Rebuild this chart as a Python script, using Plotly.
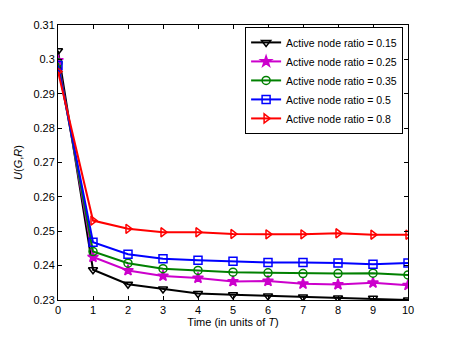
import plotly.graph_objects as go

time = [0, 1, 2, 3, 4, 5, 6, 7, 8, 9, 10]

u_015 = [0.3025, 0.2388, 0.2346, 0.2332, 0.2319, 0.2315, 0.2312, 0.2309, 0.2306, 0.2305, 0.2300]
u_025 = [0.2997, 0.2425, 0.2386, 0.2370, 0.2364, 0.2354, 0.2355, 0.2347, 0.2345, 0.2350, 0.2343]
u_035 = [0.2990, 0.2441, 0.2407, 0.2391, 0.2386, 0.2381, 0.2379, 0.2377, 0.2377, 0.2378, 0.2373]
u_05 = [0.2982, 0.2468, 0.2433, 0.2420, 0.2416, 0.2413, 0.2409, 0.2409, 0.2408, 0.2404, 0.2408]
u_08 = [0.2965, 0.2531, 0.2507, 0.2497, 0.2497, 0.2492, 0.2491, 0.2491, 0.2494, 0.2490, 0.2490]

y_ticks = [0.23, 0.24, 0.25, 0.26, 0.27, 0.28, 0.29, 0.30, 0.31]
y_ticktext = ["0.23", "0.24", "0.25", "0.26", "0.27", "0.28", "0.29", "0.3", "0.31"]

series = [
    ("Active node ratio = 0.15", u_015, "black", "triangle-down-open"),
    ("Active node ratio = 0.25", u_025, "#cc00cc", "star"),
    ("Active node ratio = 0.35", u_035, "green", "circle-open"),
    ("Active node ratio = 0.5", u_05, "blue", "square-open"),
    ("Active node ratio = 0.8", u_08, "red", "triangle-right-open"),
]

fig = go.Figure()
for name, vals, color, sym in series:
    fig.add_trace(go.Scatter(
        x=time, y=vals, name=name, mode="lines+markers",
        line=dict(color=color, width=2),
        marker=dict(symbol=sym, size=8, color=color,
                    line=dict(color=color, width=1.5)),
    ))

# page body adds an 8px offset, margins compensate for it
fig.update_layout(
    width=450, height=338,
    margin=dict(l=50, r=50, t=17, b=46, autoexpand=False),
    paper_bgcolor="white", plot_bgcolor="white",
    font=dict(family="Liberation Sans, Arial", size=11, color="black"),
    legend=dict(x=0.986, y=0.993, xanchor="right", yanchor="top",
                bgcolor="white", bordercolor="black", borderwidth=1,
                font=dict(size=10.5), tracegroupgap=0, itemwidth=30),
    showlegend=True,
)

fig.update_xaxes(
    range=[0, 10], tickvals=time, showgrid=False, zeroline=False,
    showline=True, linecolor="black", linewidth=1, mirror="ticks",
    ticks="inside", ticklen=4, tickcolor="black",
    title=dict(text="Time (in units of <i>T</i>)", standoff=2, font=dict(size=11)),
)
fig.update_yaxes(
    range=[0.23, 0.31], tickvals=y_ticks, ticktext=y_ticktext,
    showgrid=False, zeroline=False,
    showline=True, linecolor="black", linewidth=1, mirror="ticks",
    ticks="inside", ticklen=4, tickcolor="black",
    title=dict(text="<i>U</i>(<i>G</i>,<i>R</i>)", standoff=8, font=dict(size=11)),
)

fig.write_html("out.html")
